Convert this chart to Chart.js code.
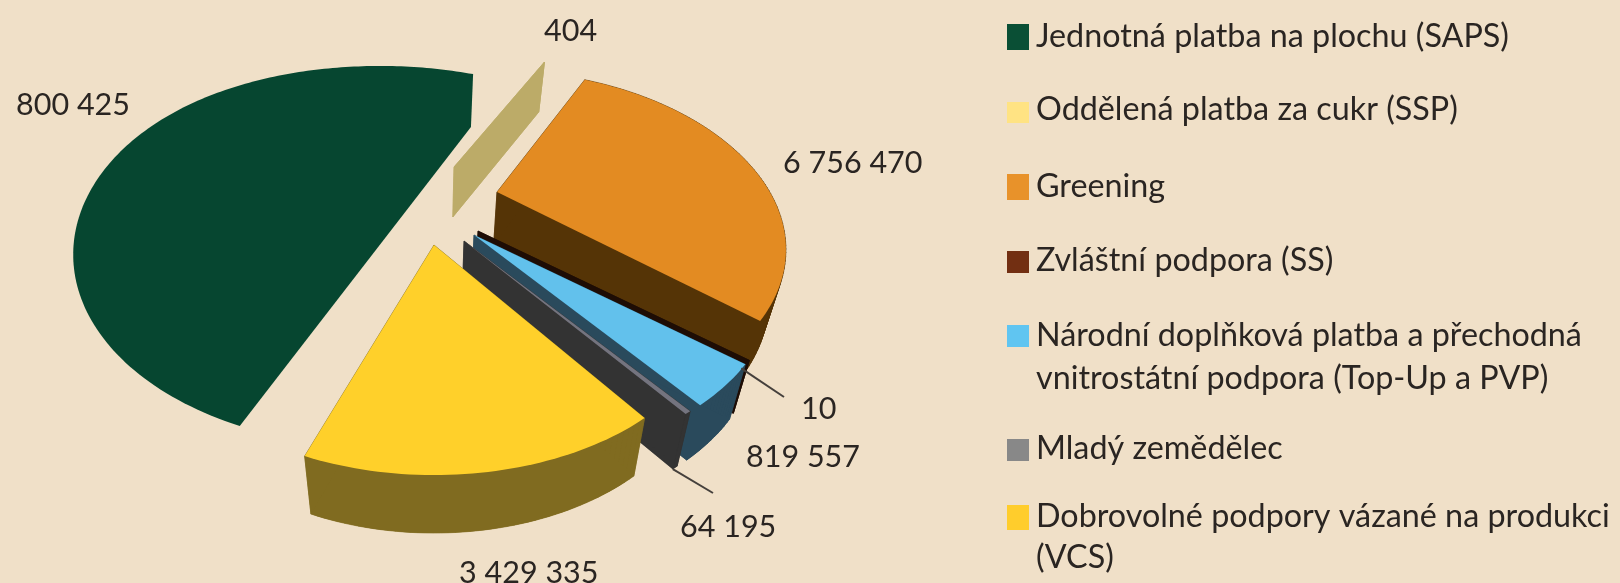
<!DOCTYPE html>
<html lang="cs">
<head>
<meta charset="utf-8">
<style>
html,body{margin:0;padding:0;background:#f0e0c8;overflow:hidden}
#wrap{width:1620px;height:583px;position:relative}
canvas{display:block;filter:blur(0.6px)}
</style>
<script src="https://cdn.jsdelivr.net/npm/chart.js@4"></script>
</head>
<body>
<div id="wrap"><canvas id="c" width="1620" height="583"></canvas></div>
<script>
const categories = [
  'Jednotná platba na plochu (SAPS)',
  'Oddělená platba za cukr (SSP)',
  'Greening',
  'Zvláštní podpora (SS)',
  'Národní doplňková platba a přechodná vnitrostátní podpora (Top-Up a PVP)',
  'Mladý zemědělec',
  'Dobrovolné podpory vázané na produkci (VCS)'
];
const values = [11800425, 404, 6756470, 10, 819557, 64195, 3429335];
const valueLabels = ['800 425', '404', '6 756 470', '10', '819 557', '64 195', '3 429 335'];
const legendLines = [
  ['Jednotná platba na plochu (SAPS)'],
  ['Oddělená platba za cukr (SSP)'],
  ['Greening'],
  ['Zvláštní podpora (SS)'],
  ['Národní doplňková platba a přechodná', 'vnitrostátní podpora (Top-Up a PVP)'],
  ['Mladý zemědělec'],
  ['Dobrovolné podpory vázané na produkci', '(VCS)']
];
const topColors  = ['#064630', '#bcab68', '#e38b22', '#1e0d05', '#62c1ec', '#74747f', '#ffd02a'];
const wallColors = ['#064630', '#bcab68', '#553406', '#1e0d05', '#2a4a5c', '#333333', '#806b20'];
const swatchColors = ['#0a4f35', '#ffe383', '#e8922a', '#722f12', '#60c5f1', '#888888', '#ffcd2c'];

// layout / style
const BG = '#f0e0c8';
const VIEW = {cx: 438, cy: 205, r: 280, p: 151.6, q: 0.341, taper: 0.05, taperX: 430};
const EXPLODE = [[-58,-26],[16,-38],[59,-13],[40,26],[36,30],[26,36],[-4,40]];
const DEPTH = [53,50,53,53,55,55,58];
const WIDEN = [1.03,1,0.97,1,1,1,0.95];
const LOW_STRETCH = [38,0,0,0,0,0,0];
const HIGH_STRETCH = [0,0,8,0,0,0,0];
const FLAT_ARC = [true,false,false,false,false,false,false];
const LABEL_POS = [[16,115],[544,41],[783,173],[801,419],[746,467],[680,537],[459,583]];
const LEGEND_SWATCH = [[24,26],[102,21],[174,26],[251,22],[325,22],[439,22],[505,25]];
const LEGEND_BASE = [[47],[120],[197],[271],[346,389],[459],[527,568]];
const LEGEND_X = 1007, LEGEND_W = 22, LEGEND_TX = 1036;
const FONT_VAL = '30.5px Lato', FONT_LEG = '32.3px Lato';

function project(theta){
  const X = Math.sin(theta), Y = -Math.cos(theta), w = 1 - VIEW.q*Y;
  return [VIEW.r*X/w, VIEW.p*Y/w, Y];
}
function slicePts(el,i){
  const a0 = el.startAngle + Math.PI/2, a1 = el.endAngle + Math.PI/2;
  const ox = VIEW.cx + EXPLODE[i][0], oy = VIEW.cy + EXPLODE[i][1];
  const n = Math.max(1, Math.ceil((a1-a0)/0.02));
  const pts = [[ox,oy]];
  for(let k=0;k<=n;k++){
    const t = a0 + (a1-a0)*k/n, s = project(t), Y = s[2];
    pts.push([ox + s[0]*WIDEN[i],
              oy + s[1] + LOW_STRETCH[i]*(1+Y)*(1+Y)/4 - HIGH_STRETCH[i]*(1-Y)*(1-Y)/4]);
  }
  return pts;
}
function lower(p,d){ return [p[0] - VIEW.taper*(p[0]-VIEW.taperX), p[1]+d]; }
function fillPoly(ctx, pts, color){
  ctx.beginPath();
  pts.forEach((p,i)=> i?ctx.lineTo(p[0],p[1]):ctx.moveTo(p[0],p[1]));
  ctx.closePath();
  ctx.fillStyle = color; ctx.fill();
}
const pie3d = {
  id:'pie3d',
  beforeDatasetsDraw(chart){
    const ctx = chart.ctx;
    const arcs = chart.getDatasetMeta(0).data;
    ctx.save();
    arcs.forEach((el,i)=>{
      const pts = slicePts(el,i), wall = wallColors[i], d = DEPTH[i];
      ctx.lineWidth = 0.6; ctx.strokeStyle = wall; ctx.lineJoin='round';
      if(FLAT_ARC[i]){
        // outline merges with its side: the arc, closed through the lower end corner
        const end = pts[pts.length-1];
        fillPoly(ctx, pts.slice(1).concat([lower(end,d)]), wall);
        return;
      }
      // side walls: sweep of the outline downwards
      for(let k=0;k<pts.length;k++){
        const a = pts[k], b = pts[(k+1)%pts.length];
        fillPoly(ctx,[a,b,lower(b,d),lower(a,d)],wall);
        ctx.stroke();
      }
      fillPoly(ctx,pts.map(p=>lower(p,d)),wall);
      // top face
      fillPoly(ctx,pts,topColors[i]);
    });
    ctx.restore();
    return false;
  },
  afterDraw(chart){
    const ctx = chart.ctx;
    const arcs = chart.getDatasetMeta(0).data;
    ctx.save();
    // leader lines
    ctx.strokeStyle='#45403c'; ctx.lineWidth=2;
    const ssPts = slicePts(arcs[3],3), myPts = slicePts(arcs[5],5);
    const ssEnd = ssPts[ssPts.length-1], myEnd = lower(myPts[myPts.length-1],DEPTH[5]);
    ctx.beginPath(); ctx.moveTo(ssEnd[0]-8,ssEnd[1]+8); ctx.lineTo(784,397); ctx.stroke();
    ctx.beginPath(); ctx.moveTo(myEnd[0],myEnd[1]); ctx.lineTo(713,493); ctx.stroke();
    // value labels
    ctx.fillStyle='#2a2522'; ctx.textBaseline='alphabetic'; ctx.textAlign='left';
    ctx.font=FONT_VAL;
    valueLabels.forEach((t,i)=>ctx.fillText(t,LABEL_POS[i][0],LABEL_POS[i][1]));
    // legend
    ctx.font=FONT_LEG;
    legendLines.forEach((lines,i)=>{
      ctx.fillStyle=swatchColors[i];
      ctx.fillRect(LEGEND_X,LEGEND_SWATCH[i][0],LEGEND_W,LEGEND_SWATCH[i][1]);
      ctx.fillStyle='#2a2522';
      lines.forEach((t,j)=>ctx.fillText(t,LEGEND_TX,LEGEND_BASE[i][j]));
    });
    ctx.restore();
  }
};
const total = values.reduce((a,b)=>a+b,0);
new Chart(document.getElementById('c'),{
  type:'pie',
  data:{labels:categories,datasets:[{data:values,backgroundColor:topColors,borderWidth:0}]},
  options:{
    responsive:false,animation:false,
    rotation: 25 - values[0]/total*360,
    plugins:{legend:{display:false},tooltip:{enabled:false}}
  },
  plugins:[pie3d,{id:'bg',beforeDraw(c){c.ctx.save();c.ctx.fillStyle=BG;c.ctx.fillRect(0,0,c.width,c.height);c.ctx.restore();}}]
});
</script>
</body>
</html>
